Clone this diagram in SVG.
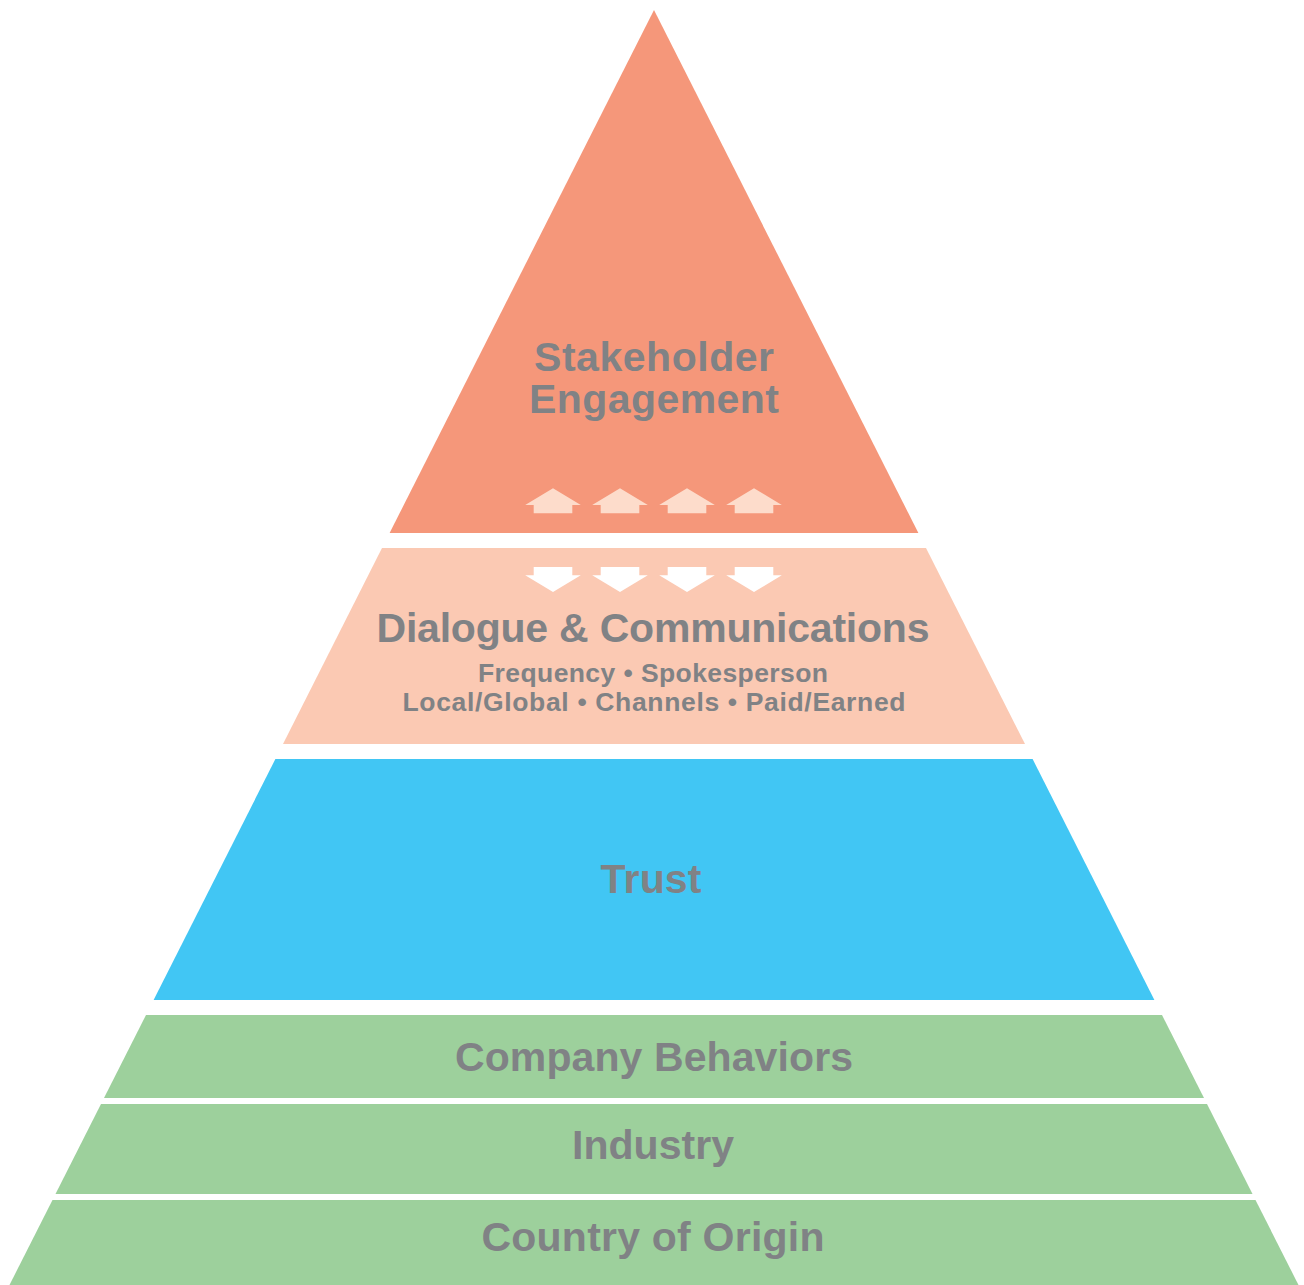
<svg xmlns="http://www.w3.org/2000/svg" width="1304" height="1285" viewBox="0 0 1304 1285">
<style>
.lbl{font-family:"Liberation Sans",Arial,sans-serif;font-weight:bold;fill:#808285;text-anchor:middle}
.big{font-size:41px}
.sub{font-size:26.5px}
</style>
<defs>
<path id="up" d="M0,-12.5 L27.8,4.2 L19.3,4.2 L19.3,12.5 L-19.3,12.5 L-19.3,4.2 L-27.8,4.2 Z"/>
<path id="down" d="M-19.3,-12.5 L19.3,-12.5 L19.3,-4.2 L27.8,-4.2 L0,12.5 L-27.8,-4.2 L-19.3,-4.2 Z"/>
</defs>
<rect width="1304" height="1285" fill="#ffffff"/>
<g id="stakeholder-engagement">
<polygon points="654,10 918.4,533 389.6,533" fill="#F5977A"/>
<text class="lbl big" x="654" y="371" textLength="240" lengthAdjust="spacing">Stakeholder</text>
<text class="lbl big" x="654" y="413" textLength="250" lengthAdjust="spacing">Engagement</text>
<g fill="#FDDCCB">
<use href="#up" x="553" y="500.8"/>
<use href="#up" x="620" y="500.8"/>
<use href="#up" x="687" y="500.8"/>
<use href="#up" x="754" y="500.8"/>
</g>
</g>
<g id="dialogue">
<polygon points="382,548 926,548 1025,744 283,744" fill="#FBC9B3"/>
<g fill="#ffffff">
<use href="#down" x="553" y="579.5"/>
<use href="#down" x="620" y="579.5"/>
<use href="#down" x="687" y="579.5"/>
<use href="#down" x="754" y="579.5"/>
</g>
<text class="lbl big" x="653" y="642" textLength="553" lengthAdjust="spacing">Dialogue &amp; Communications</text>
<text class="lbl sub" x="653" y="682" textLength="350" lengthAdjust="spacing">Frequency • Spokesperson</text>
<text class="lbl sub" x="654" y="711" textLength="503" lengthAdjust="spacing">Local/Global • Channels • Paid/Earned</text>
</g>
<g id="trust">
<polygon points="275.4,759 1032.6,759 1154.4,1000 153.6,1000" fill="#41C6F4"/>
<text class="lbl big" x="651" y="893" textLength="101" lengthAdjust="spacing">Trust</text>
</g>
<g id="company-behaviors">
<polygon points="146,1015 1162,1015 1204,1098 104,1098" fill="#9DD09C"/>
<text class="lbl big" x="654" y="1071" textLength="398" lengthAdjust="spacing">Company Behaviors</text>
</g>
<g id="industry">
<polygon points="101,1104 1207,1104 1252.5,1194 55.5,1194" fill="#9DD09C"/>
<text class="lbl big" x="653" y="1159" textLength="162" lengthAdjust="spacing">Industry</text>
</g>
<g id="country-of-origin">
<polygon points="52.5,1200 1255.5,1200 1298.5,1285 9.5,1285" fill="#9DD09C"/>
<text class="lbl big" x="653" y="1251" textLength="343" lengthAdjust="spacing">Country of Origin</text>
</g>
<g id="connectors"></g>
</svg>
